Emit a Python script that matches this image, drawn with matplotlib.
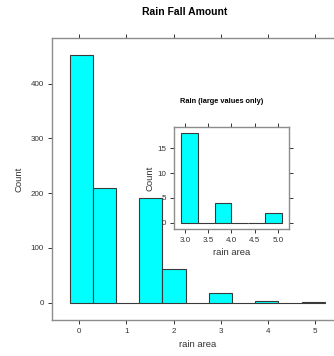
import matplotlib
matplotlib.use("Agg")
import matplotlib.pyplot as plt
import numpy as np

plt.rcParams['font.family'] = ['Liberation Sans', 'DejaVu Sans']

# main histogram: 11 bins from -0.2 to 5.2
main_edges = np.linspace(-0.2, 5.2, 12)
main_counts = [452, 210, 0, 192, 62, 0, 18, 0, 4, 0, 2]
main_xticks = [0, 1, 2, 3, 4, 5]
main_yticks = [0, 100, 200, 300, 400]

# inset histogram: large values only, 6 bins from 2.92 to 5.08
inset_edges = np.linspace(2.92, 5.08, 7)
inset_counts = [18, 0, 4, 0, 0, 2]
inset_xticks = [3.0, 3.5, 4.0, 4.5, 5.0]
inset_yticks = [0, 5, 10, 15]

fill = '#00ffff'
edge = '#3a3a3a'
frame = '#8c8c8c'


def style_axes(ax, fs):
    for s in ax.spines.values():
        s.set_color(frame)
        s.set_linewidth(1.0)
    ax.tick_params(direction='out', length=3.2, width=0.7, color='#333333',
                   labelsize=fs, labelcolor='#333333', pad=2.5,
                   top=True, right=True)


fig = plt.figure(figsize=(3.34, 3.56), dpi=100)

ax = fig.add_axes([0.1548, 0.1011, 0.871, 0.7922])
ax.bar(main_edges[:-1], main_counts, width=np.diff(main_edges), align='edge',
       color=fill, edgecolor=edge, linewidth=0.8)
span = main_edges[-1] - main_edges[0]
ax.set_xlim(main_edges[0] - 0.07 * span, main_edges[-1] + 0.07 * span)
ax.set_ylim(-0.07 * max(main_counts), 1.07 * max(main_counts))
ax.set_xticks(main_xticks)
ax.set_yticks(main_yticks)
style_axes(ax, 5.8)
ax.set_xlabel('rain area', fontsize=6.8, color='#333333', labelpad=4)
ax.set_ylabel('Count', fontsize=6.8, color='#333333', labelpad=5)

fig.text(0.552, 0.966, 'Rain Fall Amount', ha='center', va='center',
         fontsize=7.5, fontweight='bold')

ins = fig.add_axes([0.521, 0.3567, 0.344, 0.2865])
ins.set_facecolor('white')
ins.bar(inset_edges[:-1], inset_counts, width=np.diff(inset_edges), align='edge',
        color=fill, edgecolor=edge, linewidth=0.8)
span = inset_edges[-1] - inset_edges[0]
ins.set_xlim(inset_edges[0] - 0.07 * span, inset_edges[-1] + 0.07 * span)
ins.set_ylim(-0.07 * max(inset_counts), 1.07 * max(inset_counts))
ins.set_xticks(inset_xticks)
ins.set_xticklabels([f'{v:.1f}' for v in inset_xticks])
ins.set_yticks(inset_yticks)
style_axes(ins, 5.8)
ins.set_xlabel('rain area', fontsize=6.8, color='#333333', labelpad=3)
ins.set_ylabel('Count', fontsize=6.8, color='#333333', labelpad=2)

fig.text(0.665, 0.7135, 'Rain (large values only)', ha='center', va='center',
         fontsize=5.3, fontweight='bold')

fig.savefig('out.png', dpi=100)
